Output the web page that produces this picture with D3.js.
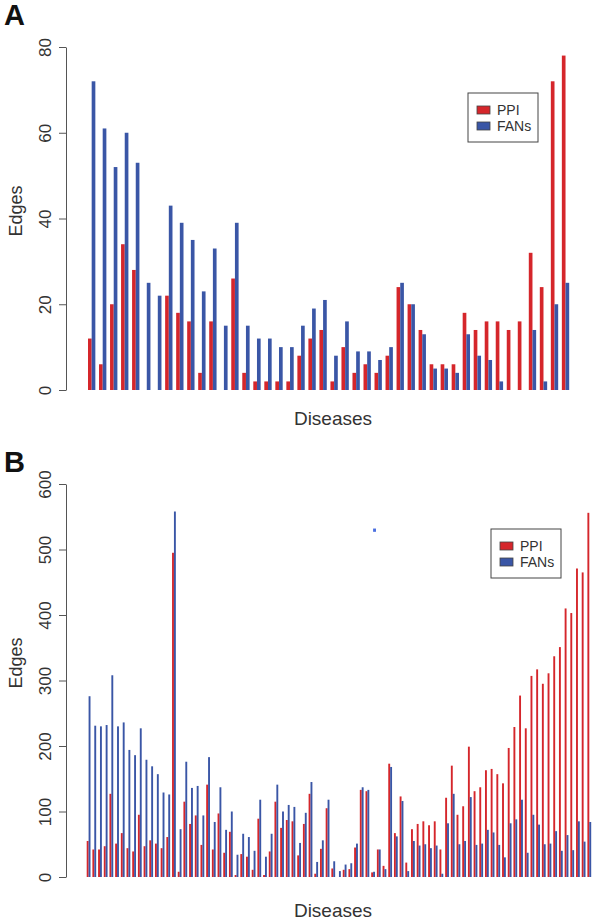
<!DOCTYPE html>
<html>
<head>
<meta charset="utf-8">
<title>Edges per disease</title>
<script src="https://d3js.org/d3.v7.min.js"></script>
<style>
  body { margin: 0; background: #fff; }
  svg { display: block; font-family: "Liberation Sans", Arial, sans-serif; }
</style>
</head>
<body>
<script>
// series names / colours
var series = ["PPI", "FANs"];
var colors = {PPI: "#d5262b", FANs: "#3a56a6"};

// panel A: 44 diseases
var ppiA  = [12,6,20,34,28,0,0,22,18,16,4,16,0,26,4,2,2,2,2,8,12,14,2,10,4,6,4,8,24,20,14,6,6,6,18,14,16,16,14,16,32,24,72,78];
var fansA = [72,61,52,60,53,25,22,43,39,35,23,33,15,39,15,12,12,10,10,15,19,21,8,16,9,9,7,10,25,20,13,5,5,4,13,8,7,2,0,0,14,2,20,25];
var ticksA = [0,20,40,60,80];

// panel B: 89 diseases
var ppiB  = [55,42,42,47,127,51,67,44,39,95,47,56,51,44,61,495,8,115,81,94,49,141,42,97,37,69,3,35,31,11,
             89,3,39,115,75,87,85,33,81,127,5,43,105,13,0,11,12,45,133,131,7,42,17,173,67,123,22,73,81,85,
             79,85,42,121,170,95,108,199,131,137,163,165,157,143,197,229,277,227,307,317,295,311,337,351,410,403,471,465,556];
var fansB = [276,231,230,232,308,230,236,194,186,227,179,169,157,129,126,558,73,176,136,139,94,183,84,137,72,100,34,66,61,40,
             118,31,66,141,100,110,107,52,98,145,23,56,118,24,9,19,21,51,137,133,8,42,12,168,62,116,9,55,48,50,
             44,48,5,82,127,50,55,122,49,51,72,68,49,30,82,88,118,37,95,80,50,51,70,40,64,41,85,54,84];
var ticksB = [0,100,200,300,400,500,600];
// stray blue speck above disease 51 in panel B
var strayB = [{idx: 50, lo: 527, hi: 532}];

var svg = d3.select("body").append("svg").attr("width", 600).attr("height", 923);

function drawPanel(o) {
  var g = svg.append("g");
  var n = o.ppi.length;
  var rows = d3.range(n).map(function(i){ return {i: i, PPI: o.ppi[i], FANs: o.fans[i]}; });

  var y = d3.scaleLinear().domain([0, o.max]).range([o.y0, o.y1]);
  var x0 = d3.scaleBand().domain(d3.range(n)).range([o.xs, o.xe]).paddingInner(1/3).paddingOuter(0);
  var x1 = d3.scaleBand().domain(series).range([0, x0.bandwidth()]);

  g.selectAll("g.grp").data(rows).join("g")
    .attr("class", "grp")
    .attr("transform", function(d){ return "translate(" + x0(d.i) + ",0)"; })
    .selectAll("rect").data(function(d){ return series.map(function(k){ return {k: k, v: d[k]}; }); })
    .join("rect")
      .attr("x", function(d){ return x1(d.k); })
      .attr("width", x1.bandwidth())
      .attr("y", function(d){ return y(d.v); })
      .attr("height", function(d){ return y(0) - y(d.v); })
      .attr("fill", function(d){ return colors[d.k]; });

  if (o.stray) {
    g.selectAll("rect.stray").data(o.stray).join("rect")
      .attr("class", "stray")
      .attr("x", function(d){ return x0(d.idx) + x1("FANs"); })
      .attr("width", x1.bandwidth() + 1)
      .attr("y", function(d){ return y(d.hi); })
      .attr("height", function(d){ return y(d.lo) - y(d.hi); })
      .attr("fill", "#4a6fe0");
  }

  // y axis, R style (labels parallel to axis)
  var ax = g.append("g").attr("transform", "translate(66,0)")
    .call(d3.axisLeft(y).tickValues(o.ticks).tickSize(7).tickSizeOuter(0));
  ax.select(".domain").attr("stroke", "#555");
  ax.selectAll(".tick line").attr("stroke", "#555");
  ax.selectAll(".tick text")
    .attr("transform", "rotate(-90)")
    .attr("x", 0).attr("y", -15).attr("dy", 0)
    .attr("text-anchor", "middle")
    .attr("fill", "#333")
    .style("font-size", "17px");

  g.append("text")
    .attr("transform", "translate(22," + o.ylabY + ") rotate(-90)")
    .attr("text-anchor", "middle")
    .attr("fill", "#333")
    .style("font-size", "18px")
    .text("Edges");

  g.append("text")
    .attr("x", 333).attr("y", o.xlabY)
    .attr("text-anchor", "middle")
    .attr("fill", "#333")
    .style("font-size", "19px")
    .text("Diseases");

  g.append("text")
    .attr("x", 4).attr("y", o.tagY)
    .attr("fill", "#111")
    .style("font-size", "29px").style("font-weight", "bold")
    .text(o.tag);

  // legend
  var lg = g.append("g").attr("transform", "translate(" + o.leg[0] + "," + o.leg[1] + ")");
  lg.append("rect").attr("width", 70).attr("height", 49)
    .attr("fill", "#fff").attr("stroke", "#444").attr("stroke-width", 1);
  series.forEach(function(k, j){
    lg.append("rect").attr("x", 9).attr("y", 13 + j * 16).attr("width", 13).attr("height", 8)
      .attr("fill", colors[k]).attr("stroke", "#444").attr("stroke-width", 0.8);
    lg.append("text").attr("x", 29).attr("y", 22 + j * 16)
      .attr("fill", "#333").style("font-size", "14px").text(k);
  });
}

drawPanel({ppi: ppiA, fans: fansA, max: 80, ticks: ticksA, y0: 390, y1: 47,
           xs: 88, xe: 569.2, ylabY: 211, xlabY: 425, tag: "A", tagY: 25, leg: [468, 93]});
drawPanel({ppi: ppiB, fans: fansB, max: 600, ticks: ticksB, y0: 877, y1: 484,
           xs: 86.7, xe: 591.2, ylabY: 663, xlabY: 917, tag: "B", tagY: 472, leg: [491, 529], stray: strayB});
</script>
</body>
</html>
